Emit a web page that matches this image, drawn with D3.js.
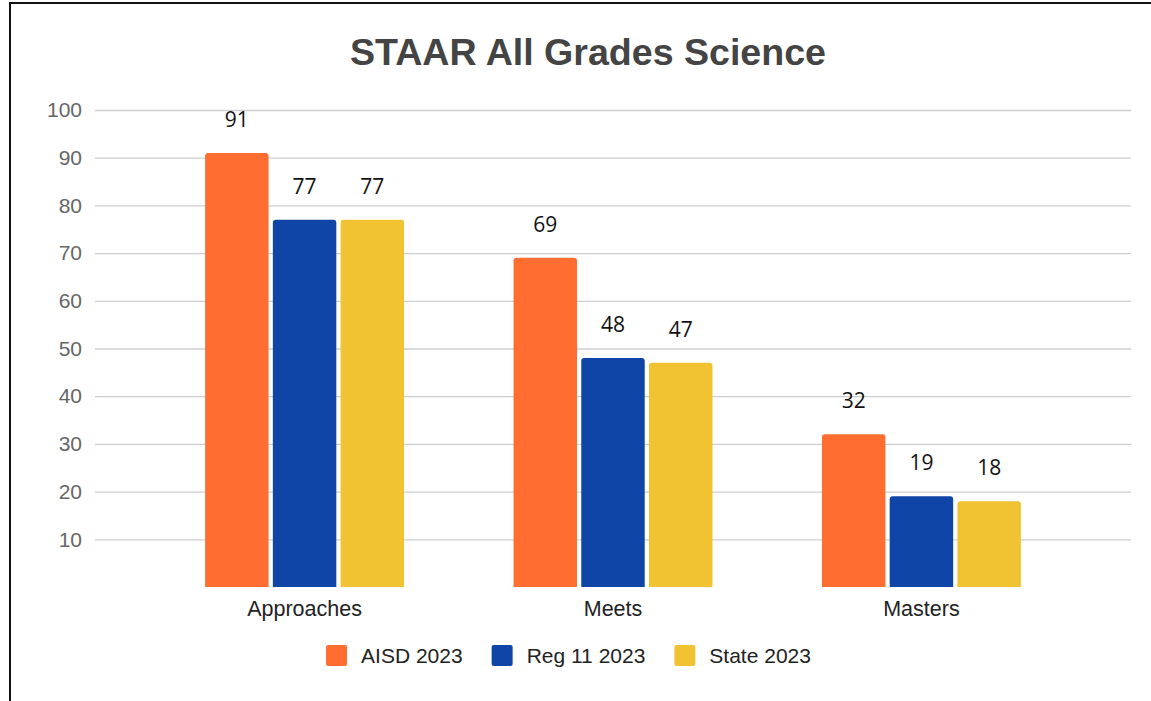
<!DOCTYPE html>
<html>
<head>
<meta charset="utf-8">
<script src="https://cdn.jsdelivr.net/npm/d3@7"></script>
<style>
  body { margin: 0; background: #fff; }
  svg { display: block; }
</style>
</head>
<body>
<div id="chart"></div>
<script>
// data
var categories = ["Approaches", "Meets", "Masters"];
var seriesNames = ["AISD 2023", "Reg 11 2023", "State 2023"];
var aisd = [91, 69, 32];
var reg11 = [77, 48, 19];
var state = [77, 47, 18];
var yTicks = [10, 20, 30, 40, 50, 60, 70, 80, 90, 100];

var colors = ["#ff6d31", "#1045a8", "#f1c232"];
var series = [aisd, reg11, state];

var width = 1151, height = 701;
var svg = d3.select("#chart").append("svg")
    .attr("width", width)
    .attr("height", height);

// frame (only left and top edges are visible in the picture)
svg.append("path")
    .attr("d", "M10,701 V3 H1151")
    .attr("fill", "none")
    .attr("stroke", "#111")
    .attr("stroke-width", 2);

var plot = {left: 95, right: 1131, top: 110, bottom: 587};

var x0 = d3.scaleBand()
    .domain(categories)
    .range([plot.left, plot.right])
    .paddingInner(0.355)
    .paddingOuter(0.357);

var x1 = d3.scaleBand()
    .domain(d3.range(seriesNames.length))
    .range([0, x0.bandwidth()])
    .paddingInner(0.063);

var y = d3.scaleLinear()
    .domain([0, 100])
    .range([plot.bottom, plot.top]);

// title
svg.append("text")
    .attr("x", 588)
    .attr("y", 65)
    .attr("text-anchor", "middle")
    .attr("font-family", "Liberation Sans, Arial, sans-serif")
    .attr("font-weight", "bold")
    .attr("font-size", 36)
    .attr("fill", "#444")
    .attr("textLength", 476)
    .attr("lengthAdjust", "spacingAndGlyphs")
    .text("STAAR All Grades Science");

// gridlines + y labels
var yAxis = d3.axisLeft(y)
    .tickValues(yTicks)
    .tickSize(-(plot.right - plot.left))
    .tickPadding(13);

var gy = svg.append("g")
    .attr("transform", "translate(" + plot.left + ",0)")
    .call(yAxis);
gy.select(".domain").remove();
gy.selectAll(".tick line").attr("stroke", "#cfcfcf").attr("stroke-width", 1.3);
gy.selectAll(".tick text")
    .attr("font-family", "Liberation Sans, Arial, sans-serif")
    .attr("font-size", 21)
    .attr("fill", "#666");

// bars with slightly rounded tops
function barPath(x, yTop, w, yBottom, r) {
  return "M" + x + "," + yBottom +
    "V" + (yTop + r) +
    "Q" + x + "," + yTop + " " + (x + r) + "," + yTop +
    "H" + (x + w - r) +
    "Q" + (x + w) + "," + yTop + " " + (x + w) + "," + (yTop + r) +
    "V" + yBottom + "Z";
}

var groups = svg.append("g").selectAll("g")
    .data(categories)
    .enter().append("g")
    .attr("transform", function(d) { return "translate(" + x0(d) + ",0)"; });

var bars = groups.selectAll("g")
    .data(function(d, i) { return series.map(function(s, k) { return {k: k, v: s[i]}; }); })
    .enter().append("g");

bars.append("path")
    .attr("d", function(d) { return barPath(x1(d.k), y(d.v), x1.bandwidth(), y(0), 3); })
    .attr("fill", function(d) { return colors[d.k]; });

bars.append("text")
    .attr("x", function(d) { return x1(d.k) + x1.bandwidth() / 2; })
    .attr("y", function(d) { return y(d.v) - 26; })
    .attr("text-anchor", "middle")
    .attr("font-family", "Open Sans, sans-serif")
    .attr("font-size", 21)
    .attr("fill", "#111")
    .text(function(d) { return d.v; });

// category labels
var xAxis = d3.axisBottom(x0).tickSize(0).tickPadding(14);
var gx = svg.append("g")
    .attr("transform", "translate(0," + plot.bottom + ")")
    .call(xAxis);
gx.select(".domain").remove();
gx.selectAll(".tick text")
    .attr("font-family", "Liberation Sans, Arial, sans-serif")
    .attr("font-size", 21.5)
    .attr("fill", "#222");

// legend, centred
var legend = svg.append("g");
var items = legend.selectAll("g")
    .data(seriesNames)
    .enter().append("g");
items.append("rect")
    .attr("width", 21).attr("height", 21)
    .attr("y", 645)
    .attr("rx", 2)
    .attr("fill", function(d, i) { return colors[i]; });
items.append("text")
    .attr("x", 35)
    .attr("y", 663)
    .attr("font-family", "Liberation Sans, Arial, sans-serif")
    .attr("font-size", 21)
    .attr("fill", "#222")
    .text(function(d) { return d; });

var offsets = [], pos = 0;
items.each(function() {
  offsets.push(pos);
  var w = 35 + d3.select(this).select("text").node().getComputedTextLength();
  pos += w + 29;
});
var total = pos - 29;
var startX = 568.5 - total / 2;
items.attr("transform", function(d, i) { return "translate(" + (startX + offsets[i]) + ",0)"; });
</script>
</body>
</html>
